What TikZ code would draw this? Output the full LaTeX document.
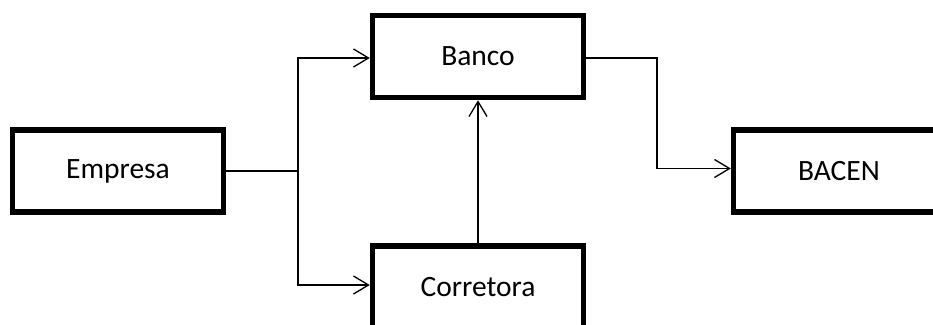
\documentclass[tikz,border=0pt]{standalone}
\usepackage{fontspec}
\setmainfont{Carlito}
\usetikzlibrary{arrows.meta}
\begin{document}
\begin{tikzpicture}[x=1pt,y=-1pt,
  box/.style={draw=black,line width=5.5pt,minimum width=211pt,minimum height=82pt,inner sep=0pt,font=\fontsize{29.5}{32}\selectfont},
  conn/.style={draw=black,line width=1.3pt},
  arr/.style={conn,-{Straight Barb[length=15pt,width=18pt,line width=1.3pt]}}]
\useasboundingbox (0,0) rectangle (933,324);
\clip (0,0) rectangle (933,324);
\node[box] (emp) at (118,171) {Empresa};
\node[box] (ban) at (478,56.5) {Banco};
\node[box] (cor) at (478,287) {Corretora};
\node[box] (bac) at (839,171) {BACEN};
\coordinate (j1) at (298,171);
\coordinate (j2) at (657,56.5);
\coordinate (bin) at ([yshift=2.5pt]bac.west);
\coordinate (bout) at ([yshift=-1.5pt]ban.east);
\draw[conn] (emp.east) -- (j1);
\draw[arr] (j1) |- ([yshift=-1.5pt]ban.west);
\draw[arr] (j1) |- ([yshift=2pt]cor.west);
\draw[arr] (cor.north) -- (ban.south);
\draw[arr] (bout) -| (j2 |- bin) -- (bin);
\end{tikzpicture}
\end{document}
